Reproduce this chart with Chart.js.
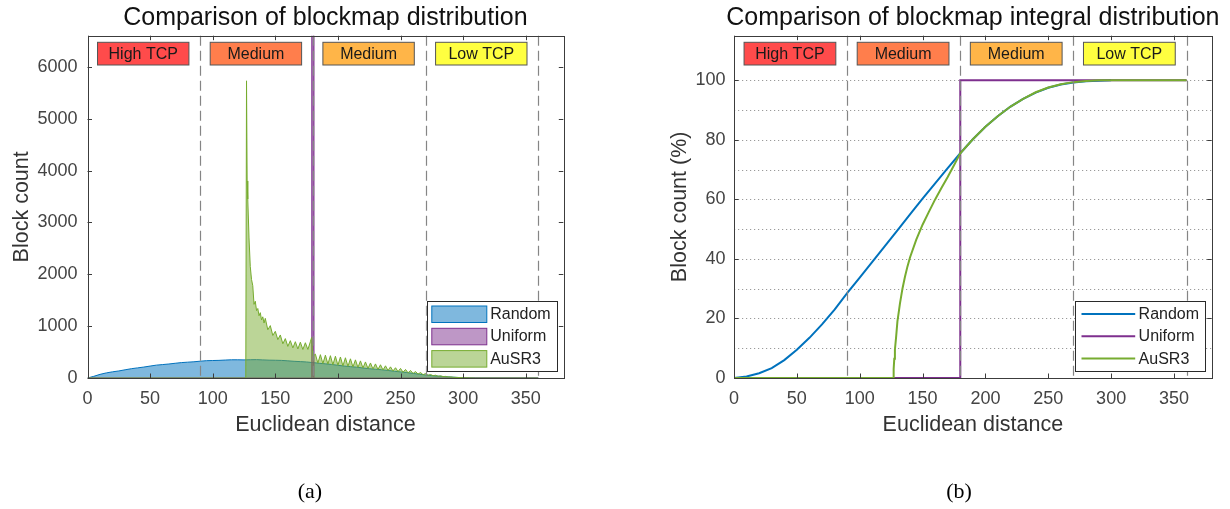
<!DOCTYPE html>
<html>
<head>
<meta charset="utf-8">
<script src="https://cdn.jsdelivr.net/npm/chart.js@4.4.1/dist/chart.umd.min.js"></script>
<style>
    html, body { margin: 0; padding: 0; background: #fff; overflow: hidden; }
    #leftBox { position: absolute; left: 0; top: 0; width: 615px; height: 509px; }
    #rightBox { position: absolute; left: 615px; top: 0; width: 615px; height: 509px; }
    .cap { position: absolute; top: 478px; width: 60px; text-align: center; font: 22px "Liberation Serif", "Times New Roman", serif; color: #000; }
</style>
</head>
<body>
<div id="leftBox"><canvas id="chartHist" width="615" height="509"></canvas></div>
<div id="rightBox"><canvas id="chartCum" width="615" height="509"></canvas></div>
<div class="cap" style="left:280px">(a)</div>
<div class="cap" style="left:929px">(b)</div>

<script>
// zones of the distance axis
var zoneEdges = [90, 180, 270, 360];
var zoneNames = ["High TCP", "Medium", "Medium", "Low TCP"];
var zoneColors = ['#FF4B4B', '#FF7E4C', '#FFB548', '#FFFF40'];

var seriesNames = ["Random", "Uniform", "AuSR3"];

// tick values
var distTicks = [0, 50, 100, 150, 200, 250, 300, 350];
var countTicks = [0, 1000, 2000, 3000, 4000, 5000, 6000];
var percentTicks = [0, 20, 40, 60, 80, 100];
var percentGrid = [10, 20, 30, 40, 50, 60, 70, 80, 90, 100];

// (a) histogram of block distances
var randomDist = [0, 5, 10, 15, 20, 25, 30, 35, 40, 45, 50, 55, 60, 65, 70, 75, 80, 85, 90, 95,
    100, 105, 110, 115, 120, 125, 130, 135, 140, 145, 150, 155, 160, 165, 170, 175, 180, 185, 190, 195,
    200, 205, 210, 215, 220, 225, 230, 235, 240, 245, 250, 255, 260, 265, 270, 275, 280, 285, 290, 295,
    300, 305, 310, 315, 360];
var randomCount = [0, 32, 70, 98, 119, 136, 158, 179, 195, 211, 230, 248, 259, 270, 284, 297, 305, 313, 324, 334,
    337, 340, 346, 351, 351, 349, 352, 354, 349, 344, 342, 339, 331, 322, 316, 309, 297, 284, 273, 261,
    245, 230, 219, 208, 193, 179, 169, 159, 145, 130, 118, 105, 88, 73, 58, 46, 35, 26, 18, 11,
    6, 3, 1, 0, 0];

var uniformDist = [0, 179.2, 179.2, 180.8, 180.8, 360];
var uniformCount = [0, 0, 65000, 65000, 0, 0];

var ausDist = [0, 126.4, 127, 127.5, 128, 129, 130, 131, 132, 133, 134, 135, 136, 137, 138, 139, 140, 141, 142,
    144, 146, 148, 150, 152, 154, 156, 158, 160, 162, 164, 166, 168, 170, 172, 174, 176, 178, 179, 180,
    182, 184, 186, 188, 190, 192, 194, 196, 198, 200, 202, 204, 206, 208, 210, 212, 214, 216, 218, 220,
    222, 224, 226, 228, 230, 232, 234, 236, 238, 240, 242, 244, 246, 248, 250, 252, 254, 256, 258, 260,
    262, 264, 266, 268, 270, 272, 274, 276, 278, 280, 282, 284, 286, 288, 290, 292, 296, 300, 304, 310, 360];
var ausCount = [0, 0, 5730, 3800, 3450, 2700, 2150, 1900, 1780, 1420, 1480, 1300, 1340, 1200, 1260, 1120, 1180, 1060, 1150,
    930, 1010, 820, 900, 740, 830, 660, 760, 610, 720, 580, 700, 560, 690, 550, 680, 550, 700, 780, 420,
    460, 288, 450, 278, 440, 268, 430, 256, 420, 245, 405, 235, 390, 224, 370, 214, 350, 204, 330, 193,
    310, 183, 290, 174, 272, 164, 255, 155, 235, 145, 215, 135, 198, 124, 185, 112, 165, 100, 145, 88,
    125, 76, 105, 64, 85, 53, 68, 44, 54, 35, 42, 28, 31, 21, 22, 15, 10, 6, 3, 0, 0];

// (b) integral distribution, percent
var randomCumDist = [0, 10, 20, 30, 40, 50, 60, 70, 80, 90, 100, 110, 120, 130, 140, 150, 160, 170, 180, 190,
    200, 210, 220, 230, 240, 250, 260, 270, 280, 290, 300];
var randomCum = [0, 0.5, 1.6, 3.3, 6, 9.5, 13.5, 18, 23, 28.5, 33.7, 39, 44.3, 49.6, 55, 60.3, 65.4, 70.5, 75.5, 80.2,
    84.4, 88, 91.2, 93.8, 95.9, 97.5, 98.6, 99.3, 99.7, 99.9, 100];

var uniformCumDist = [0, 180, 180, 360];
var uniformCum = [0, 0, 100, 100];

var ausCumDist = [0, 126.5, 127, 127.5, 128, 129, 130, 131, 132, 134, 136, 138, 140, 145, 150, 155, 160, 165, 170, 175, 180,
    190, 200, 210, 220, 230, 240, 250, 260, 270, 280, 290, 360];
var ausCum = [0, 0, 3, 6.5, 9.5, 14, 19, 22, 25, 30, 34, 37.5, 40.5, 46.5, 51.5, 55.8, 60, 63.8, 67.5, 71.5, 75.5,
    80.2, 84.4, 88, 91.2, 93.8, 96, 97.6, 98.7, 99.4, 99.8, 100, 100];

var FONT = '"Liberation Sans", Arial, Helvetica, sans-serif';
Chart.defaults.font.family = FONT;
Chart.defaults.color = '#444';

function pts(xs, ys) {
    return xs.map(function (x, i) { return { x: x, y: ys[i] }; });
}

function fixedTicks(values) {
    return function (scale) {
        scale.ticks = values.map(function (v) { return { value: v }; });
    };
}

// zone lines, labels, axes box, inner ticks, legend and title
var zonePlugin = {
    id: 'zones',
    beforeDatasetsDraw: function (chart, args, opts) {
        if (!opts.grid) return;
        var ctx = chart.ctx, area = chart.chartArea, ys = chart.scales.y;
        ctx.save();
        ctx.strokeStyle = '#9a9a9a';
        ctx.lineWidth = 1;
        ctx.setLineDash([1.2, 2.8]);
        opts.grid.forEach(function (v) {
            var py = Math.round(ys.getPixelForValue(v)) + 0.5;
            ctx.beginPath();
            ctx.moveTo(area.left, py);
            ctx.lineTo(area.right, py);
            ctx.stroke();
        });
        ctx.restore();
    },
    afterDatasetsDraw: function (chart, args, opts) {
        var ctx = chart.ctx, area = chart.chartArea;
        var xs = chart.scales.x, ys = chart.scales.y;
        ctx.save();

        // dashed zone borders
        ctx.strokeStyle = '#858585';
        ctx.lineWidth = 1.2;
        ctx.setLineDash([10, 5]);
        zoneEdges.forEach(function (e) {
            var px = Math.round(xs.getPixelForValue(e)) + 0.5;
            ctx.beginPath();
            ctx.moveTo(px, area.top);
            ctx.lineTo(px, area.bottom);
            ctx.stroke();
        });
        ctx.setLineDash([]);

        // zone labels
        ctx.font = '16px ' + FONT;
        ctx.textAlign = 'center';
        ctx.textBaseline = 'middle';
        zoneEdges.forEach(function (e, i) {
            var c = e - 45.5;
            var x1 = xs.getPixelForValue(c - 36.5), x2 = xs.getPixelForValue(c + 36.5);
            var y1 = area.top + 6.6, h = 22.7;
            ctx.fillStyle = zoneColors[i];
            ctx.fillRect(x1, y1, x2 - x1, h);
            ctx.strokeStyle = '#555';
            ctx.lineWidth = 1;
            ctx.strokeRect(x1, y1, x2 - x1, h);
            ctx.fillStyle = '#1a1a1a';
            ctx.fillText(zoneNames[i], (x1 + x2) / 2, y1 + h / 2 + 0.5);
        });

        // axes box
        ctx.strokeStyle = '#3c3c3c';
        ctx.lineWidth = 1;
        ctx.strokeRect(Math.round(area.left) + 0.5, Math.round(area.top) + 0.5,
            Math.round(area.right - area.left), Math.round(area.bottom - area.top));

        // inner tick marks on all four sides
        ctx.beginPath();
        xs.ticks.forEach(function (t) {
            var px = Math.round(xs.getPixelForValue(t.value)) + 0.5;
            ctx.moveTo(px, area.bottom); ctx.lineTo(px, area.bottom - 4.5);
            ctx.moveTo(px, area.top); ctx.lineTo(px, area.top + 4.5);
        });
        ys.ticks.forEach(function (t) {
            var py = Math.round(ys.getPixelForValue(t.value)) + 0.5;
            ctx.moveTo(area.left, py); ctx.lineTo(area.left + 4.5, py);
            ctx.moveTo(area.right, py); ctx.lineTo(area.right - 4.5, py);
        });
        ctx.stroke();

        // legend in the lower right corner
        var lw = 130, lh = 70;
        var lx = area.right - 6.5 - lw, ly = area.bottom - 7 - lh;
        ctx.fillStyle = '#fff';
        ctx.fillRect(lx, ly, lw, lh);
        ctx.strokeStyle = '#2a2a2a';
        ctx.strokeRect(Math.round(lx) + 0.5, Math.round(ly) + 0.5, lw, lh);
        ctx.textAlign = 'left';
        ctx.font = '16px ' + FONT;
        chart.data.datasets.forEach(function (ds, i) {
            var cy = ly + 13 + i * 22.3;
            if (opts.legend === 'patch') {
                ctx.fillStyle = ds.backgroundColor;
                ctx.fillRect(lx + 5, cy - 8, 55, 16.5);
                ctx.strokeStyle = ds.borderColor;
                ctx.lineWidth = 1;
                ctx.strokeRect(lx + 5, cy - 8, 55, 16.5);
            } else {
                ctx.strokeStyle = ds.borderColor;
                ctx.lineWidth = 2;
                ctx.beginPath();
                ctx.moveTo(lx + 6.3, cy);
                ctx.lineTo(lx + 60, cy);
                ctx.stroke();
            }
            ctx.fillStyle = '#222';
            ctx.fillText(ds.label, lx + 63.4, cy + 0.5);
        });

        // title centred over the plot area
        ctx.font = '25px ' + FONT;
        ctx.textAlign = 'center';
        ctx.fillStyle = '#111';
        ctx.fillText(opts.title, (area.left + area.right) / 2, 18.3);

        ctx.restore();
    }
};

function xAxis() {
    return {
        type: 'linear',
        min: 0,
        max: 380,
        afterBuildTicks: fixedTicks(distTicks),
        grid: { display: false, drawTicks: false },
        border: { display: false },
        ticks: { padding: 10.5, font: { size: 18 }, callback: function (v) { return String(v); } },
        title: { display: true, text: 'Euclidean distance', font: { size: 21.5 }, color: '#333', padding: { top: 0, bottom: 0 } },
        afterFit: function (scale) { scale.height = 60; }
    };
}

new Chart(document.getElementById('chartHist'), {
    type: 'line',
    data: {
        datasets: [{
            label: seriesNames[0],
            data: pts(randomDist, randomCount),
            borderColor: '#0072BD',
            backgroundColor: 'rgba(0,114,189,0.5)',
            borderWidth: 1,
            fill: 'origin',
            order: 3
        }, {
            label: seriesNames[1],
            data: pts(uniformDist, uniformCount),
            borderColor: '#7E2F8E',
            backgroundColor: 'rgba(126,47,142,0.5)',
            borderWidth: 1.2,
            fill: 'origin',
            order: 2
        }, {
            label: seriesNames[2],
            data: pts(ausDist, ausCount),
            borderColor: '#77AC30',
            backgroundColor: 'rgba(119,172,48,0.5)',
            borderWidth: 1,
            fill: 'origin',
            order: 1
        }]
    },
    options: {
        responsive: false,
        animation: false,
        elements: { point: { radius: 0 }, line: { tension: 0 } },
        layout: { padding: { top: 35.7, left: 0, right: 51.7, bottom: 71 } },
        scales: {
            x: xAxis(),
            y: {
                min: 0,
                max: 6600,
                afterBuildTicks: fixedTicks(countTicks),
                grid: { display: false, drawTicks: false },
                border: { display: false },
                ticks: { padding: 10, font: { size: 18 }, callback: function (v) { return String(v); } },
                title: { display: true, text: 'Block count', font: { size: 21.5 }, color: '#333', padding: { top: 9, bottom: 0 } },
                afterFit: function (scale) { scale.width = 87.5; }
            }
        },
        plugins: {
            legend: { display: false },
            tooltip: { enabled: false },
            zones: { title: 'Comparison of blockmap distribution', legend: 'patch' }
        }
    },
    plugins: [zonePlugin]
});

new Chart(document.getElementById('chartCum'), {
    type: 'line',
    data: {
        datasets: [{
            label: seriesNames[0],
            data: pts(randomCumDist, randomCum),
            borderColor: '#0072BD',
            borderWidth: 2,
            fill: false,
            order: 3
        }, {
            label: seriesNames[1],
            data: pts(uniformCumDist, uniformCum),
            borderColor: '#7E2F8E',
            borderWidth: 2,
            fill: false,
            order: 2
        }, {
            label: seriesNames[2],
            data: pts(ausCumDist, ausCum),
            borderColor: '#77AC30',
            borderWidth: 2,
            fill: false,
            order: 1
        }]
    },
    options: {
        responsive: false,
        animation: false,
        elements: { point: { radius: 0 }, line: { tension: 0 } },
        layout: { padding: { top: 35.7, left: 0, right: 18.3, bottom: 71 } },
        scales: {
            x: xAxis(),
            y: {
                min: 0,
                max: 115,
                afterBuildTicks: fixedTicks(percentTicks),
                grid: { display: false, drawTicks: false },
                border: { display: false },
                ticks: { padding: 8.5, font: { size: 18 }, callback: function (v) { return String(v); } },
                title: { display: true, text: 'Block count (%)', font: { size: 21.5 }, color: '#333', padding: { top: 51.7, bottom: 0 } },
                afterFit: function (scale) { scale.width = 119; }
            }
        },
        plugins: {
            legend: { display: false },
            tooltip: { enabled: false },
            zones: { title: 'Comparison of blockmap integral distribution', legend: 'line', grid: percentGrid }
        }
    },
    plugins: [zonePlugin]
});
</script>
</body>
</html>
